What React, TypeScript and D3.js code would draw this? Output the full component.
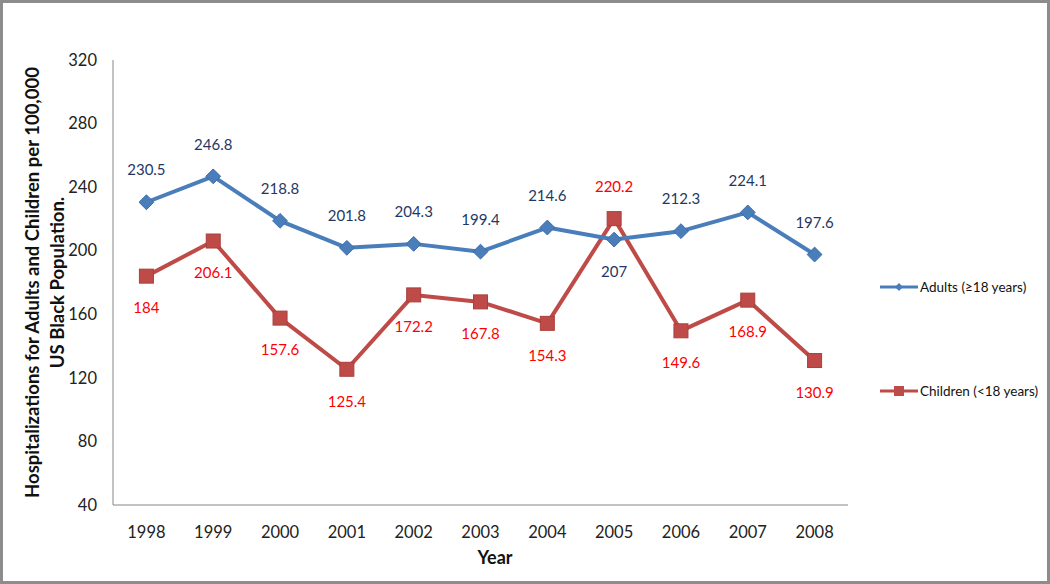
import React, { useEffect, useRef } from "react";
import * as d3 from "d3";

const years = ["1998", "1999", "2000", "2001", "2002", "2003", "2004", "2005", "2006", "2007", "2008"];
const adults = [230.5, 246.8, 218.8, 201.8, 204.3, 199.4, 214.6, 207, 212.3, 224.1, 197.6];
const children = [184, 206.1, 157.6, 125.4, 172.2, 167.8, 154.3, 220.2, 149.6, 168.9, 130.9];
const yTicks = [40, 80, 120, 160, 200, 240, 280, 320];
// which labels go above (-1) or below (+1) their point
const adultsLabelSide = [-1, -1, -1, -1, -1, -1, -1, 1, -1, -1, -1];
const childrenLabelSide = [1, 1, 1, 1, 1, 1, 1, -1, 1, 1, 1];

const W = 1050;
const H = 584;
const FONT = "Lato, 'Open Sans', sans-serif";

export default function App() {
  const ref = useRef<SVGSVGElement>(null);

  useEffect(() => {
    const svg = d3.select(ref.current);
    svg.selectAll("*").remove();

    const margin = { top: 60, right: 202, bottom: 79, left: 113 };
    const x = d3.scaleBand().domain(years).range([margin.left, W - margin.right]);
    const y = d3.scaleLinear().domain([40, 320]).range([H - margin.bottom, margin.top]);
    const cx = (i: number) => x(years[i])! + x.bandwidth() / 2;

    // outer frame
    svg.append("rect").attr("x", 1.5).attr("y", 1.5).attr("width", W - 3).attr("height", H - 3)
      .attr("fill", "#fff").attr("stroke", "#8c8c8c").attr("stroke-width", 3);

    // axes
    svg.append("line").attr("x1", margin.left).attr("x2", margin.left)
      .attr("y1", y(320)).attr("y2", y(40)).attr("stroke", "#868686").attr("stroke-width", 1);
    svg.append("line").attr("x1", margin.left).attr("x2", W - margin.right)
      .attr("y1", y(40)).attr("y2", y(40)).attr("stroke", "#868686").attr("stroke-width", 1);

    svg.selectAll(".ytick").data(yTicks).enter().append("text")
      .attr("x", margin.left - 16).attr("y", d => y(d)).attr("dy", "0.35em")
      .attr("text-anchor", "end").style("font-family", FONT).style("font-size", "16.5px")
      .attr("fill", "#222").text(d => d);

    svg.selectAll(".xtick").data(years).enter().append("text")
      .attr("x", (d, i) => cx(i)).attr("y", y(40) + 27).attr("dy", "0.35em")
      .attr("text-anchor", "middle").style("font-family", FONT).style("font-size", "16.5px")
      .attr("fill", "#222").text(d => d);

    svg.append("text").attr("x", 495).attr("y", 558).attr("dy", "0.35em")
      .attr("text-anchor", "middle").style("font-family", FONT).style("font-size", "18px")
      .style("font-weight", "bold").attr("fill", "#111").text("Year");

    const yMid = (y(320) + y(40)) / 2;
    const yt = svg.append("text").attr("transform", `translate(33,${yMid}) rotate(-90)`)
      .attr("text-anchor", "middle").style("font-family", FONT).style("font-size", "18.5px")
      .style("font-weight", "bold").attr("fill", "#111");
    yt.append("tspan").attr("x", 0).attr("dy", "0.35em").text("Hospitalizations for Adults and Children per 100,000");
    yt.append("tspan").attr("x", 0).attr("dy", "25px").text("US Black Population.");

    const line = d3.line<number>().x((d, i) => cx(i)).y(d => y(d));

    const blue = "#4A7EBB";
    const red = "#BE4B48";

    svg.append("path").datum(children).attr("d", line).attr("fill", "none")
      .attr("stroke", red).attr("stroke-width", 4).attr("stroke-linejoin", "round");
    svg.append("path").datum(adults).attr("d", line).attr("fill", "none")
      .attr("stroke", blue).attr("stroke-width", 4).attr("stroke-linejoin", "round");

    const diamond = d3.symbol().type(d3.symbolDiamond2).size(140);
    svg.selectAll(".am").data(adults).enter().append("path")
      .attr("d", diamond).attr("transform", (d, i) => `translate(${cx(i)},${y(d)})`)
      .attr("fill", blue).attr("stroke", "#3c6ca8").attr("stroke-width", 1);

    svg.selectAll(".cm").data(children).enter().append("rect")
      .attr("x", (d, i) => cx(i) - 7).attr("y", d => y(d) - 7).attr("width", 14).attr("height", 14)
      .attr("fill", red).attr("stroke", "#a8403d").attr("stroke-width", 1);

    svg.selectAll(".al").data(adults).enter().append("text")
      .attr("x", (d, i) => cx(i)).attr("y", (d, i) => y(d) + adultsLabelSide[i] * 32)
      .attr("dy", "0.35em").attr("text-anchor", "middle").style("font-family", FONT)
      .style("font-size", "15px").attr("fill", "#1F3864").text(d => d);

    svg.selectAll(".cl").data(children).enter().append("text")
      .attr("x", (d, i) => cx(i)).attr("y", (d, i) => y(d) + childrenLabelSide[i] * 32)
      .attr("dy", "0.35em").attr("text-anchor", "middle").style("font-family", FONT)
      .style("font-size", "15px").attr("fill", "#FF0000").text(d => d);

    // legend
    const legend = [
      { name: "Adults (\u226518 years)", color: blue, y: 287, marker: "diamond" },
      { name: "Children (<18 years)", color: red, y: 391, marker: "square" },
    ];
    legend.forEach(l => {
      svg.append("line").attr("x1", 880).attr("x2", 918).attr("y1", l.y).attr("y2", l.y)
        .attr("stroke", l.color).attr("stroke-width", 3);
      if (l.marker === "diamond") {
        svg.append("path").attr("d", d3.symbol().type(d3.symbolDiamond2).size(40)())
          .attr("transform", `translate(899,${l.y})`).attr("fill", l.color);
      } else {
        svg.append("rect").attr("x", 894).attr("y", l.y - 5).attr("width", 10).attr("height", 10)
          .attr("fill", l.color);
      }
      svg.append("text").attr("x", 920).attr("y", l.y).attr("dy", "0.35em")
        .style("font-family", FONT).style("font-size", "13.5px").attr("fill", "#111").text(l.name);
    });
  }, []);

  return (
    <svg ref={ref} width={W} height={H}
      style={{ position: "absolute", left: 0, top: 0, background: "#fff" }} />
  );
}
